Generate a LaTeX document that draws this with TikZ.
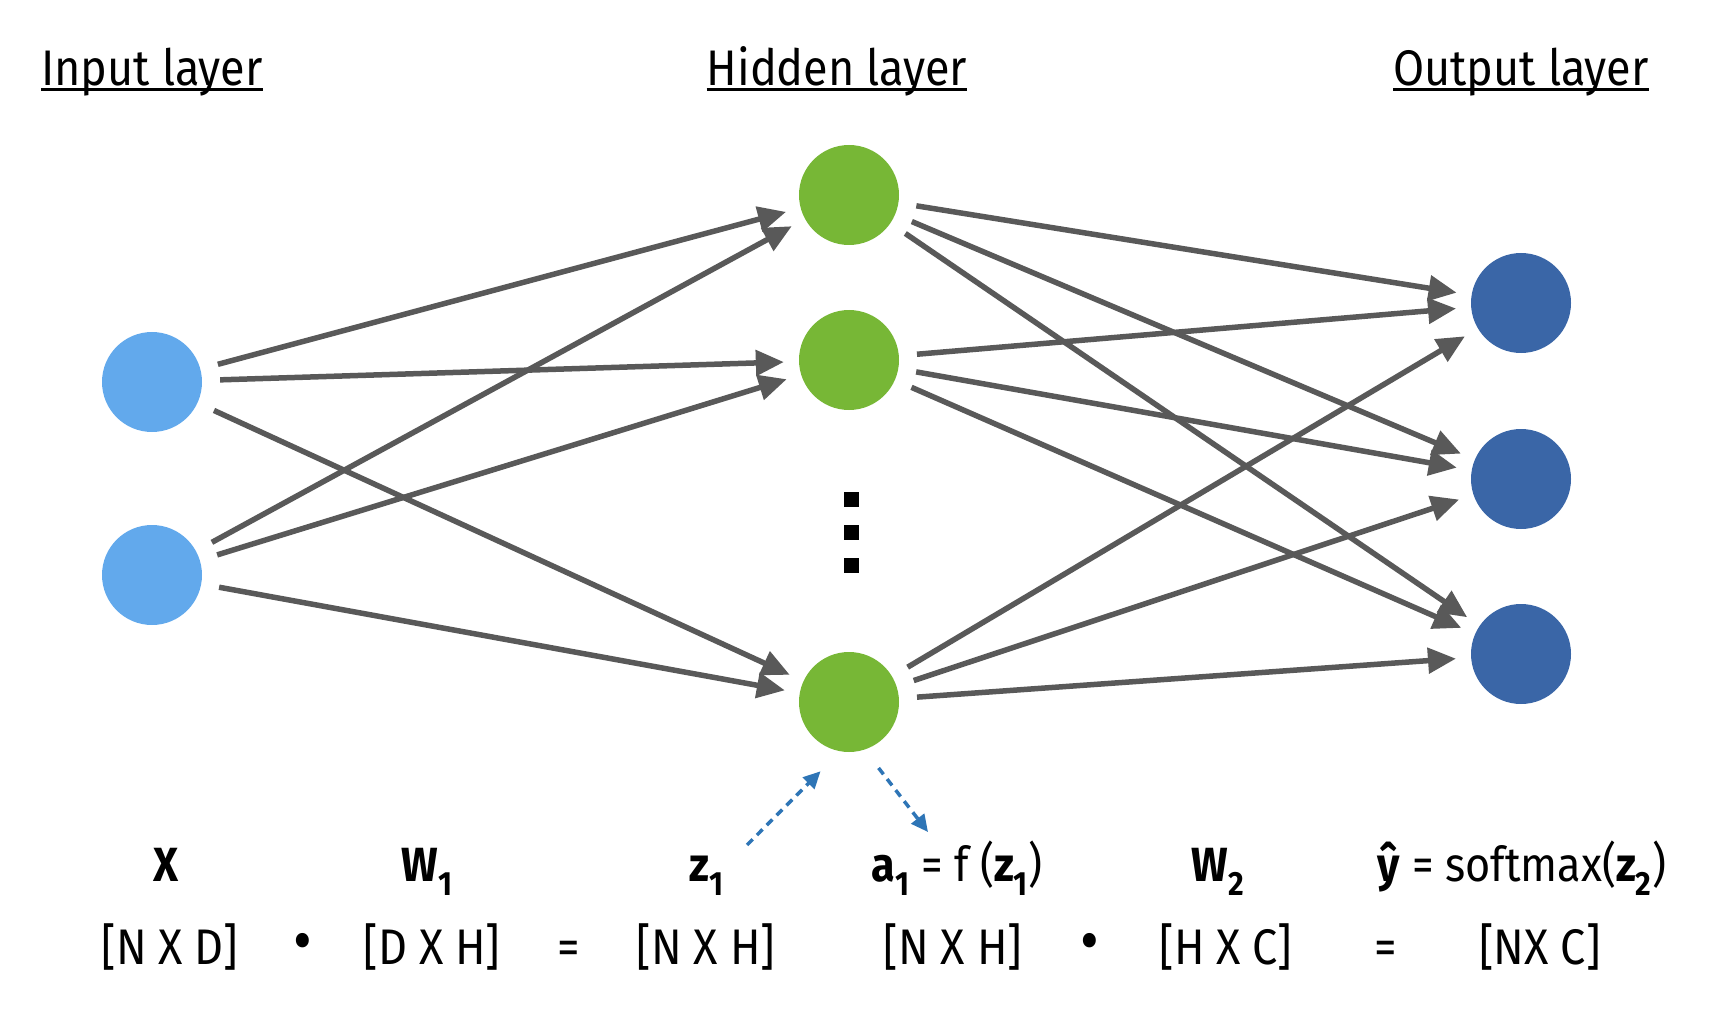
\documentclass[tikz,border=0pt]{standalone}
\usepackage{fontspec}
\setmainfont{Fira Sans}[FakeStretch=0.9]
\usetikzlibrary{arrows.meta,positioning}

\definecolor{inblue}{HTML}{62A9EC}
\definecolor{hidgreen}{HTML}{77B736}
\definecolor{outblue}{HTML}{3A66A7}
\definecolor{wgray}{HTML}{595959}
\definecolor{dashblue}{HTML}{2E75B6}

\tikzstyle{neuron} = [circle, minimum size=100pt, inner sep=0pt]
\tikzstyle{line} = [draw=wgray, line width=5.5pt, -{Triangle[length=28pt,width=25pt]},
    shorten <=18pt, shorten >=15pt]
\tikzstyle{dashlink} = [draw=dashblue, line width=3.5pt, dash pattern=on 8pt off 6pt,
    -{Triangle[length=17pt,width=16pt]}]
\tikzstyle{head} = [font=\fontsize{50}{58}\selectfont, inner sep=0pt, anchor=base]
\tikzstyle{sym} = [font=\fontsize{48}{56}\selectfont, inner sep=0pt, anchor=base]
\tikzstyle{dimen} = [font=\fontsize{50}{58}\selectfont, inner sep=0pt, anchor=base]
\tikzstyle{times} = [font=\fontsize{64}{70}\selectfont, inner sep=0pt, anchor=base]

\begin{document}
\begin{tikzpicture}[x=1pt, y=-1pt]
    \useasboundingbox (0,0) rectangle (1727,1024);

    % layer titles
    \node [head] (InTitle) at (152,86) {Input layer};
    \node [head] (HidTitle) at (837,86) {Hidden layer};
    \node [head] (OutTitle) at (1521,86) {Output layer};
    \foreach \t in {InTitle,HidTitle,OutTitle}
        \draw [line width=3pt] ([yshift=-4pt]\t.base west) -- ([yshift=-4pt]\t.base east);

    % neurons
    \node [neuron, fill=inblue] (In1) at (152,382) {};
    \node [neuron, fill=inblue] (In2) at (152,575) {};
    \node [neuron, fill=hidgreen] (Hid1) at (849,195) {};
    \node [neuron, fill=hidgreen] (Hid2) at (849,360) {};
    \node [neuron, fill=hidgreen] (Hid3) at (849,702) {};
    \node [neuron, fill=outblue] (Out1) at (1521,303) {};
    \node [neuron, fill=outblue] (Out2) at (1521,479) {};
    \node [neuron, fill=outblue] (Out3) at (1521,654) {};

    % vertical dots
    \foreach \y in {499,532,565}
        \node [fill=black, minimum size=15pt, inner sep=0pt] (Dot\y) at (851,\y) {};

    % weights
    \foreach \i in {1,2}
        \foreach \h in {1,2,3}
            \path [line] (In\i) -- (Hid\h);
    \foreach \h in {1,2,3}
        \foreach \o in {1,2,3}
            \path [line] (Hid\h) -- (Out\o);

    % symbols
    \node [sym] (X) at (166,881) {\bfseries X};
    \node [sym] (W1) at (427,881) {\bfseries W\textsubscript{1}};
    \node [sym] (Z1) at (707,881) {\bfseries z\textsubscript{1}};
    \node [sym] (A1) at (957,881) {\textbf{a\textsubscript{1}} = f (\textbf{z\textsubscript{1}})};
    \node [sym] (W2) at (1218,881) {\bfseries W\textsubscript{2}};
    \node [sym] (Yhat) at (1522,881) {\textbf{ŷ} = softmax(\textbf{z\textsubscript{2}})};

    % dimensions
    \node [dimen] (DimX) at (170,964) {[N X D]};
    \node [times] (Dot1) at (303,962) {•};
    \node [dimen] (DimW1) at (432,964) {[D X H]};
    \node [dimen] (Eq1) at (569,964) {=};
    \node [dimen] (DimZ1) at (706,964) {[N X H]};
    \node [dimen] (DimA1) at (953,964) {[N X H]};
    \node [times] (Dot2) at (1090,962) {•};
    \node [dimen] (DimW2) at (1226,964) {[H X C]};
    \node [dimen] (Eq2) at (1386,964) {=};
    \node [dimen] (DimY) at (1540,964) {[NX C]};

    % activation links
    \coordinate (Z1tail) at (747,845);
    \coordinate (A1tip) at (928,832);
    \path [dashlink, shorten >=28pt] (Z1tail) -- (Hid3.260);
    \path [dashlink, shorten <=23pt] (Hid3.288) -- (A1tip);
\end{tikzpicture}
\end{document}
